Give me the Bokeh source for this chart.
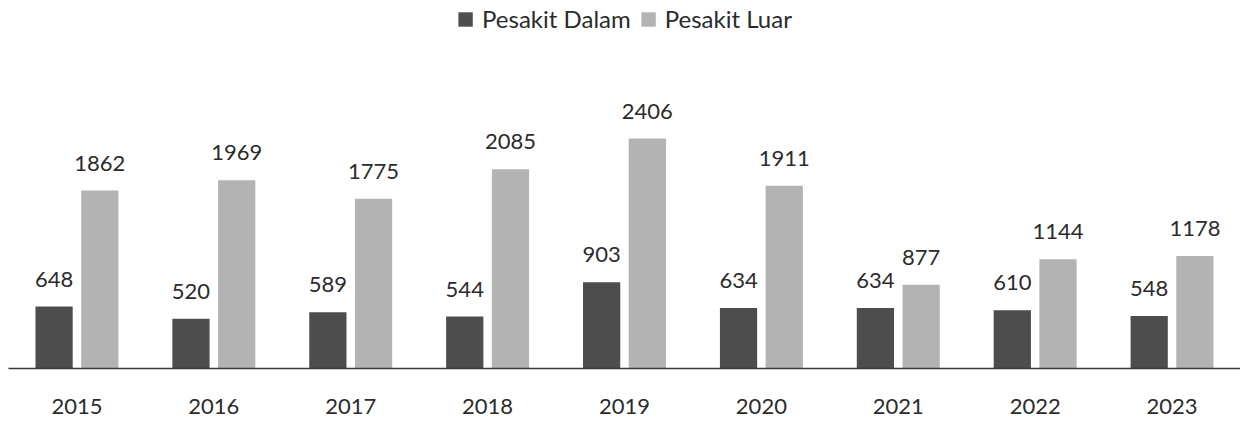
from bokeh.plotting import figure
from bokeh.models import ColumnDataSource, Range1d, FactorRange, Legend, LegendItem, LabelSet
from bokeh.transform import dodge
from bokeh.core.properties import value
from bokeh.embed import file_html
from bokeh.resources import INLINE

years = ["2015", "2016", "2017", "2018", "2019", "2020", "2021", "2022", "2023"]
pesakit_dalam = [648, 520, 589, 544, 903, 634, 634, 610, 548]
pesakit_luar = [1862, 1969, 1775, 2085, 2406, 1911, 877, 1144, 1178]

FONT = "Lato"
DARK = "#4d4d4d"
LIGHT = "#b3b3b3"
TXT = "#2b2b2b"

src = ColumnDataSource(dict(
    years=years,
    dalam=pesakit_dalam,
    luar=pesakit_luar,
    dalam_lbl=[str(v) for v in pesakit_dalam],
    luar_lbl=[str(v) for v in pesakit_luar],
))

p = figure(width=1240, height=432, x_range=FactorRange(*years, range_padding=0),
           y_range=Range1d(0, 3850), output_backend="svg", toolbar_location=None,
           min_border_left=8, min_border_right=0, min_border_top=0, min_border_bottom=64,
           background_fill_color="white", border_fill_color="white")
p.outline_line_color = None
p.grid.visible = False
p.yaxis.visible = False

off = 0.167
w = 0.272
r1 = p.vbar(x=dodge("years", -off, range=p.x_range), top="dalam", width=w, source=src,
            fill_color=DARK, line_color=None)
r2 = p.vbar(x=dodge("years", off, range=p.x_range), top="luar", width=w, source=src,
            fill_color=LIGHT, line_color=None)

for col, lbl, dx in (("dalam", "dalam_lbl", -off), ("luar", "luar_lbl", off)):
    ls = LabelSet(x=dodge("years", dx, range=p.x_range), y=col, text=lbl, source=src,
                  y_offset=20, text_align="center", text_baseline="bottom",
                  text_font=value(FONT), text_font_size="22px", text_color=TXT)
    p.add_layout(ls)

ax = p.xaxis[0]
ax.axis_line_color = "#3a3a3a"
ax.axis_line_width = 1.5
ax.major_tick_line_color = None
ax.minor_tick_line_color = None
ax.major_label_standoff = 24
ax.major_label_text_font = FONT
ax.major_label_text_font_size = "22px"
ax.major_label_text_color = TXT

legend = Legend(items=[LegendItem(label="Pesakit Dalam", renderers=[r1]),
                       LegendItem(label="Pesakit Luar", renderers=[r2])],
                location="top_center", orientation="horizontal",
                label_text_font=FONT, label_text_font_size="24px", label_text_color=TXT,
                glyph_width=18, glyph_height=18, label_standoff=8, spacing=8,
                border_line_color=None, background_fill_alpha=0, margin=4, padding=6)
p.add_layout(legend)

open("out.html", "w").write(file_html(p, INLINE))
